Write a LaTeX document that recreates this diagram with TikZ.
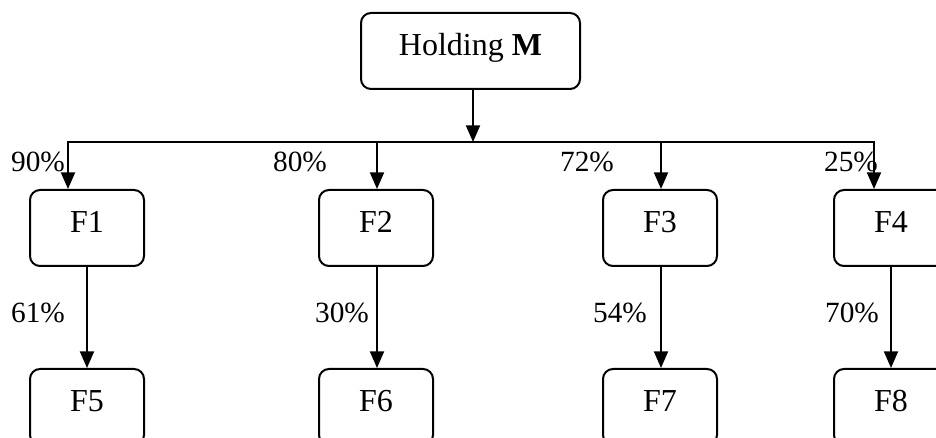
\documentclass[tikz,border=0pt]{standalone}
\usepackage{fontspec}
\setmainfont{Liberation Serif}
\usetikzlibrary{arrows.meta}

\tikzset{
  box/.style={draw, line width=1.5pt, rounded corners=7.5pt, inner sep=0pt,
    minimum width=85.5pt, minimum height=57pt,
    text height=16pt, text depth=9pt,
    font=\fontsize{24}{28}\selectfont},
  widebox/.style={box, minimum width=164.25pt},
  pct/.style={inner sep=0pt, font=\fontsize{22}{26}\selectfont},
  link/.style={line width=1.5pt, -{Triangle[length=12.5pt,width=10.5pt]}},
  busline/.style={line width=1.5pt,
    {Triangle[length=12.5pt,width=10.5pt]}-{Triangle[length=12.5pt,width=10.5pt]}}
}

\begin{document}
\begin{tikzpicture}[x=0.75pt, y=-0.75pt]
  \useasboundingbox (0,0) rectangle (936,438);
  \clip (0,0) rectangle (936,438);

  % parent company
  \node[widebox] (m) at (470.5,51) {Holding \textbf{M}};

  % first-level subsidiaries
  \node[box] (f1) at (87,228) {F1};
  \node[box] (f2) at (376,228) {F2};
  \node[box] (f3) at (660,228) {F3};
  \node[box] (f4) at (891,228) {F4};

  % second-level subsidiaries
  \node[box] (f5) at (87,407) {F5};
  \node[box] (f6) at (376,407) {F6};
  \node[box] (f7) at (660,407) {F7};
  \node[box] (f8) at (891,407) {F8};

  % distribution bus
  \coordinate (bm) at (473,142);
  \coordinate (b1) at (68,142);
  \coordinate (b2) at (377,142);
  \coordinate (b3) at (661,142);
  \coordinate (b4) at (874,142);

  \draw[link] (m.south -| bm) -- (bm);
  \draw[busline] (b1 |- f1.north) -- (b1) -- (b4) -- (b4 |- f4.north);
  \draw[link] (b2) -- (b2 |- f2.north);
  \draw[link] (b3) -- (b3 |- f3.north);

  \draw[link] (f1) -- (f5);
  \draw[link] (f2.south -| b2) -- (f6.north -| b2);
  \draw[link] (f3.south -| b3) -- (f7.north -| b3);
  \draw[link] (f4) -- (f8);

  % ownership shares
  \node[pct] (p1) at (38,162) {90\%};
  \node[pct] (p2) at (300,162) {80\%};
  \node[pct] (p3) at (587,162) {72\%};
  \node[pct] (p4) at (851,162) {25\%};
  \node[pct] (p5) at (38,313) {61\%};
  \node[pct] (p6) at (342,313) {30\%};
  \node[pct] (p7) at (620,313) {54\%};
  \node[pct] (p8) at (852,313) {70\%};
\end{tikzpicture}
\end{document}
